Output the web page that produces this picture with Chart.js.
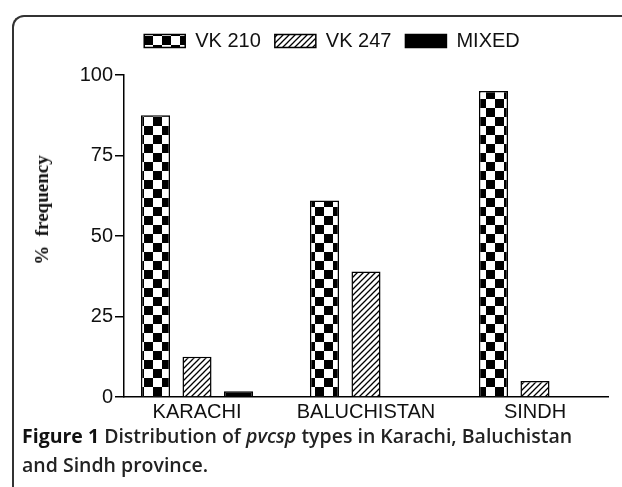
<!DOCTYPE html>
<html>
<head>
<meta charset="utf-8">
<script src="https://cdn.jsdelivr.net/npm/chart.js@4"></script>
<style>
    html, body { margin: 0; padding: 0; background: #fff; }
    body { width: 622px; height: 487px; position: relative; overflow: hidden; }
    #marco {
        position: absolute; left: 12px; top: 15px; width: 700px; height: 600px;
        border-left: 2px solid #333; border-top: 2px solid #333;
        border-top-left-radius: 12px;
    }
    #contenedor { position: absolute; left: 0; top: 0; width: 622px; height: 430px; }
    #tituloY {
        position: absolute; left: 42px; top: 210px;
        transform: translate(-50%, -50%) rotate(-90deg);
        font: bold 19px "Liberation Serif", serif; color: #111; white-space: pre;
    }
    #leyenda {
        position: absolute; left: 22px; top: 421px; width: 590px;
        font-family: "Open Sans", sans-serif; font-size: 19.5px; font-weight: 600;
        line-height: 29px; color: #222;
    }
    #leyenda b { font-weight: 700; color: #111; }
</style>
</head>
<body>
<div id="marco"></div>
<div id="contenedor"><canvas id="grafico"></canvas></div>
<div id="tituloY">%  frequency</div>
<div id="leyenda"><b>Figure 1</b> Distribution of <i>pvcsp</i> types in Karachi, Baluchistan and Sindh province.</div>
<script>
const regiones = ['KARACHI', 'BALUCHISTAN', 'SINDH'];
const vk210 = [87.5, 61, 95];
const vk247 = [12.5, 39, 5];
const mixto = [1.8, 0, 0];
const ticksY = [0, 25, 50, 75, 100];

function patronTablero() {
    const c = document.createElement('canvas');
    c.width = 18; c.height = 18;
    const g = c.getContext('2d');
    g.fillStyle = '#fff';
    g.fillRect(0, 0, 18, 18);
    g.fillStyle = '#000';
    g.fillRect(0, 0, 9, 9);
    g.fillRect(9, 9, 9, 9);
    return g.createPattern(c, 'repeat');
}

function patronRayado() {
    const c = document.createElement('canvas');
    c.width = 6; c.height = 6;
    const g = c.getContext('2d');
    g.fillStyle = '#fff';
    g.fillRect(0, 0, 6, 6);
    g.strokeStyle = '#000';
    g.lineWidth = 1.3;
    g.beginPath();
    g.moveTo(-1, 7); g.lineTo(7, -1);
    g.moveTo(-4, 4); g.lineTo(4, -4);
    g.moveTo(2, 10); g.lineTo(10, 2);
    g.stroke();
    return g.createPattern(c, 'repeat');
}

const serie = arr => arr.map((v, i) => ({ x: i, y: v }));

// separa un poco la leyenda del area del grafico
const espacioLeyenda = {
    id: 'espacioLeyenda',
    afterInit(chart) {
        const fit = chart.legend.fit;
        chart.legend.fit = function () {
            fit.call(this);
            this.height += 14;
        };
    }
};

const ctx = document.getElementById('grafico').getContext('2d');

new Chart(ctx, {
    type: 'bar',
    data: {
        datasets: [
            { label: 'VK 210', data: serie(vk210), backgroundColor: patronTablero(), borderColor: '#000', borderWidth: 1.5 },
            { label: 'VK 247', data: serie(vk247), backgroundColor: patronRayado(), borderColor: '#000', borderWidth: 1.5 },
            { label: 'MIXED', data: serie(mixto), backgroundColor: '#000', borderColor: '#000', borderWidth: 1.5 }
        ]
    },
    options: {
        responsive: true,
        maintainAspectRatio: false,
        animation: false,
        categoryPercentage: 0.737,
        barPercentage: 0.70,
        layout: { padding: { left: 56, right: 14, top: 17, bottom: 0 } },
        plugins: {
            legend: {
                position: 'top',
                labels: {
                    boxWidth: 41,
                    boxHeight: 13,
                    padding: 14,
                    color: '#111',
                    font: { family: '"Liberation Sans", Arial, sans-serif', size: 20 }
                }
            },
            tooltip: { enabled: false }
        },
        scales: {
            x: {
                type: 'linear',
                offset: false,
                min: -0.432,
                max: 2.432,
                grid: { display: false, drawTicks: false, offset: false },
                border: { color: '#000', width: 1.5 },
                afterBuildTicks: scale => {
                    scale.ticks = regiones.map((_, i) => ({ value: i }));
                },
                afterFit: scale => { scale.height = 33; },
                ticks: {
                    padding: 3,
                    color: '#111',
                    font: { family: '"Liberation Sans", Arial, sans-serif', size: 20 },
                    callback: v => regiones[v]
                }
            },
            y: {
                min: 0,
                max: 100,
                afterBuildTicks: scale => {
                    scale.ticks = ticksY.map(v => ({ value: v }));
                },
                afterFit: scale => { scale.width = 68; },
                grid: { drawOnChartArea: false, drawTicks: true, tickLength: 9, color: '#000', lineWidth: 1.5 },
                border: { color: '#000', width: 1.5 },
                ticks: {
                    padding: 2,
                    color: '#111',
                    font: { family: '"Liberation Sans", Arial, sans-serif', size: 20 }
                }
            }
        }
    },
    plugins: [espacioLeyenda]
});
</script>
</body>
</html>
